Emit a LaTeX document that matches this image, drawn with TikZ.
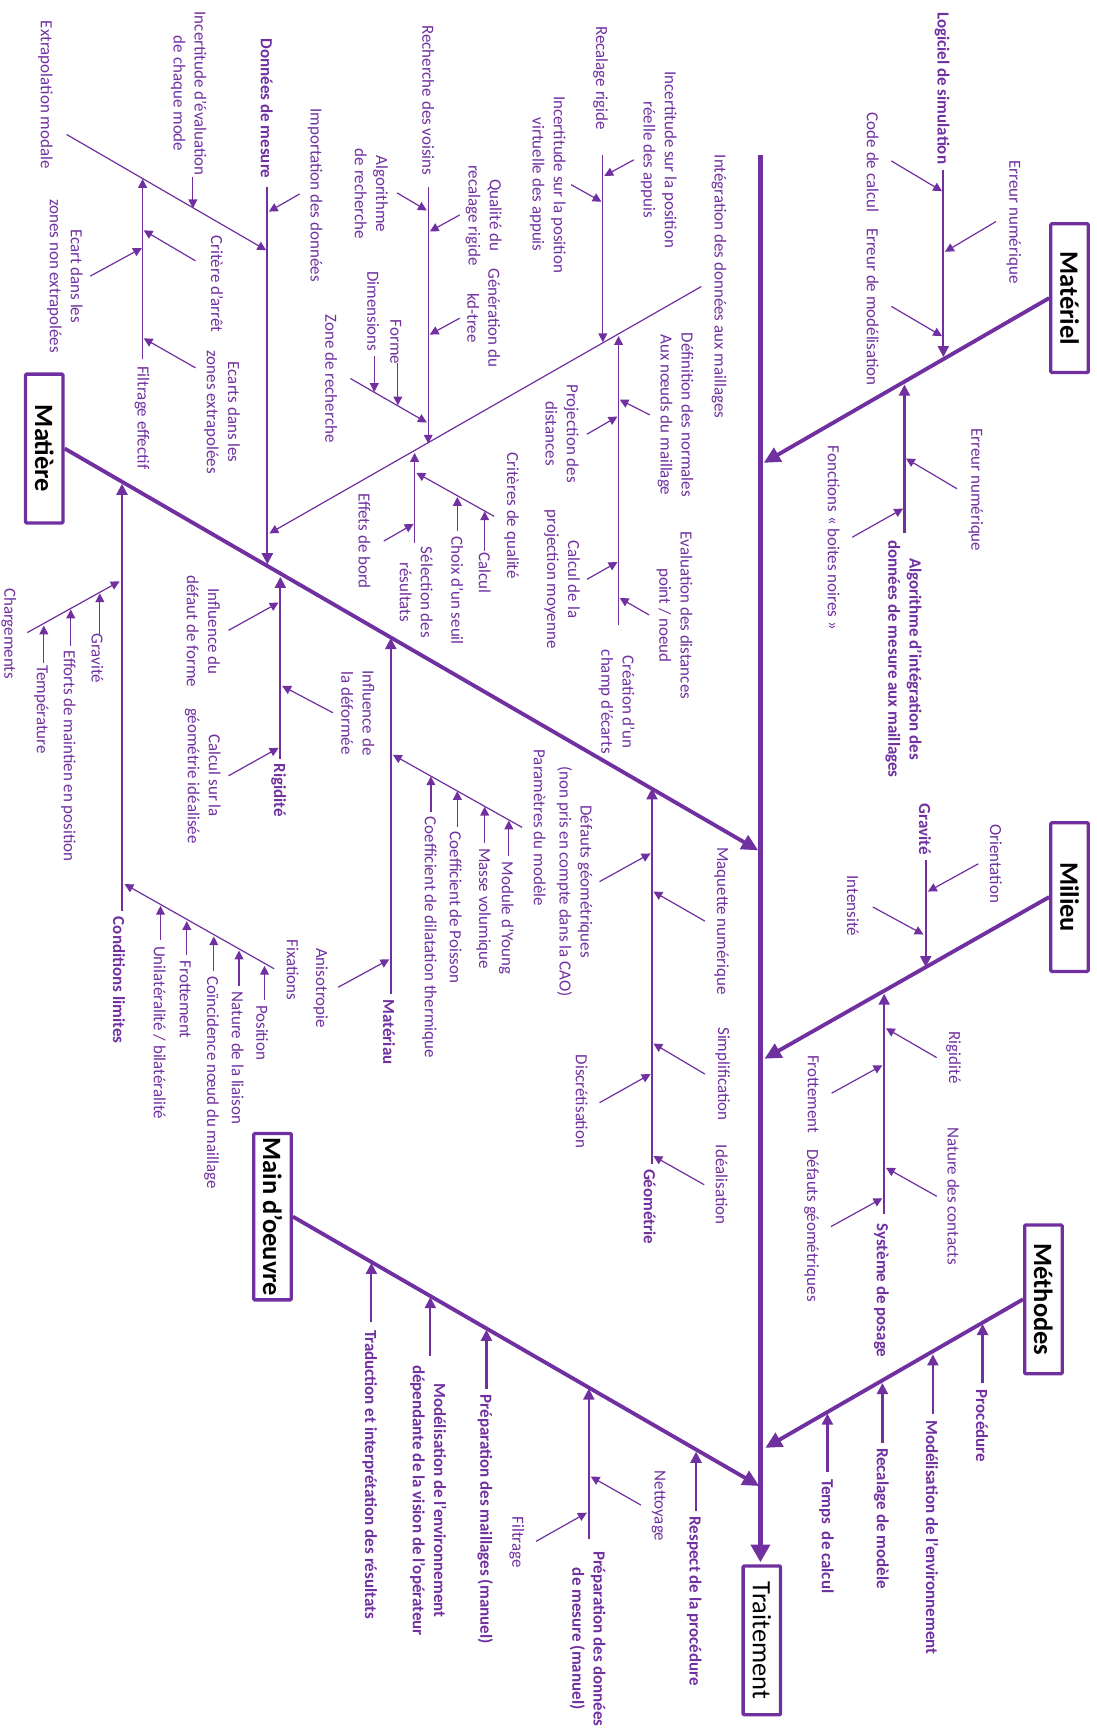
\documentclass[tikz,border=0pt]{standalone}
\usepackage{fontspec}
\setmainfont{Carlito}
\usepackage{xcolor}
\usetikzlibrary{arrows.meta}
\definecolor{fishviolet}{HTML}{7030A0}

\begin{document}
\begin{tikzpicture}[
    x=1pt, y=-1pt,
    head/.style={rectangle, rounded corners=1pt, draw=fishviolet, line width=3pt, rotate=-90, text=black, font=\fontsize{24}{28}\selectfont\bfseries, minimum width=135pt, minimum height=34pt, inner sep=0pt},
    cause/.style={rotate=-90, text=fishviolet, font=\fontsize{15.4}{19.2}\selectfont, align=center, inner sep=0pt},
    bigcause/.style={cause, font=\fontsize{15.4}{19.2}\selectfont\bfseries},
    spine/.style={draw=fishviolet, line width=4.5pt, -{Triangle[length=16pt,width=17pt]}},
    bone/.style={draw=fishviolet, line width=3.5pt, -{Triangle[length=15pt,width=14pt]}},
    rib/.style={draw=fishviolet, line width=2pt, -{Triangle[length=10pt,width=10pt]}},
    twig/.style={draw=fishviolet, line width=1.1pt, -{Triangle[length=8pt,width=8pt]}}
]
\useasboundingbox (0,0) rectangle (995,1568);

\node[head] (materiel) at (970.5,270.5) {Matériel};
\node[head] (milieu) at (970.5,814) {Milieu};
\node[head] (methodes) at (946.8,1179) {Méthodes};
\node[head] (matiere) at (40.2,407) {Matière};
\node[head, minimum width=151pt] (maindoeuvre) at (247.3,1104) {Main d’oeuvre};
\node[head, font=\fontsize{24}{28}\selectfont] (traitement) at (691.3,1488.5) {Traitement};

\coordinate (spinetop) at (690,140.5);
\coordinate (spinetip) at (690,1417.6);
\coordinate (matertip) at (693,420);
\coordinate (milieutip) at (693.7,960.7);
\coordinate (methtip) at (694.4,1313.8);
\coordinate (matiertip) at (688,771.6);
\coordinate (maintip) at (688.9,1348.4);

\draw[spine] (spinetop) -- (spinetip);
\draw[bone] (materiel.south) -- (matertip);
\draw[bone] (milieu.south) -- (milieutip);
\draw[bone] (methodes.south) -- (methtip);
\draw[bone] (matiere.north) -- (matiertip);
\draw[bone] (maindoeuvre.north) -- (maintip);

% Materiel
\node[bigcause] (logiciel) at (855,80) {Logiciel de simulation};
\node[cause] (errnum) at (920,201.5) {Erreur numérique};
\node[cause] (code) at (792,147.5) {Code de calcul};
\node[cause] (errmod) at (792,278.5) {Erreur de modélisation};
\node[bigcause] (algo) at (820,598) {Algorithme d’intégration des\\données de mesure aux maillages};
\node[cause] (errnumb) at (885.5,444.5) {Erreur numérique};
\node[cause] (boites) at (756.6,488) {Fonctions « boites noires »};

\coordinate (logtop) at (856,154); \coordinate (logtip) at (856,324);
\coordinate (algobot) at (820.7,484); \coordinate (algotip) at (820.7,349);
\coordinate (errnuma) at (903.8,201); \coordinate (errnumt) at (857.5,228.5);
\coordinate (codea) at (808.8,146); \coordinate (codet) at (854.8,173.5);
\coordinate (errmoda) at (808.8,278); \coordinate (errmodt) at (854.8,305);
\coordinate (errnumba) at (868.4,443.5); \coordinate (errnumbt) at (822,416);
\coordinate (boitesa) at (773.3,487.5); \coordinate (boitest) at (819.5,461.5);

\draw[rib] (logtop) -- (logtip);
\draw[rib] (algobot) -- (algotip);
\draw[twig] (errnuma) -- (errnumt);
\draw[twig] (codea) -- (codet);
\draw[twig] (errmoda) -- (errmodt);
\draw[twig] (errnumba) -- (errnumbt);
\draw[twig] (boitesa) -- (boitest);

% Integration des donnees
\node[cause] (integ) at (652.5,260) {Intégration des données aux maillages};
\node[cause] (recalage) at (545,71) {Recalage rigide};
\node[cause] (increel) at (597.7,145) {Incertitude sur la position\\réelle des appuis};
\node[cause] (incvirt) at (497,167.5) {Incertitude sur la position\\virtuelle des appuis};
\node[cause] (creation) at (559.5,637) {Création d’un\\champ d’écarts};
\node[cause] (normales) at (613,376.5) {Définition des normales\\Aux nœuds du maillage};
\node[cause] (projdist) at (510,393.5) {Projection des\\distances};
\node[cause] (evaldist) at (612,558.5) {Evaluation des distances\\point / noeud};
\node[cause] (projmoy) at (510,525.5) {Calcul de la\\projection moyenne};

\coordinate (intega) at (636.4,260); \coordinate (integt) at (244.5,484);
\coordinate (recaltop) at (547,140.5); \coordinate (recaltip) at (547,310.6);
\coordinate (creabot) at (561.3,567); \coordinate (creatip) at (561.3,305);
\coordinate (increela) at (575.2,145); \coordinate (increelt) at (548.4,159.6);
\coordinate (incvirta) at (518.2,167.6); \coordinate (incvirtt) at (545.8,183);
\coordinate (normalesa) at (589.7,376.5); \coordinate (normalest) at (562.3,362.6);
\coordinate (projdista) at (532.6,394); \coordinate (projdistt) at (560.3,378);
\coordinate (evaldista) at (589,558); \coordinate (evaldistt) at (562.3,542.6);
\coordinate (projmoya) at (532.6,525.7); \coordinate (projmoyt) at (560.3,510);

\draw[twig] (intega) -- (integt);
\draw[twig] (recaltop) -- (recaltip);
\draw[twig] (creabot) -- (creatip);
\draw[twig] (increela) -- (increelt);
\draw[twig] (incvirta) -- (incvirtt);
\draw[twig] (normalesa) -- (normalest);
\draw[twig] (projdista) -- (projdistt);
\draw[twig] (evaldista) -- (evaldistt);
\draw[twig] (projmoya) -- (projmoyt);

% Donnees de mesure
\node[bigcause] (donnees) at (242,98.5) {Données de mesure};
\node[cause] (import) at (286,177) {Importation des données};
\node[cause] (extrapol) at (41.3,86) {Extrapolation modale};
\node[cause] (incmode) at (171.3,85) {Incertitude d’évaluation\\de chaque mode};
\node[cause] (filtreff) at (128.8,379) {Filtrage effectif};
\node[cause] (arret) at (197,257.5) {Critère d’arrêt};
\node[cause] (ecartnon) at (58.9,250.5) {Ecart dans les\\zones non extrapolées};
\node[cause] (ecartext) at (201.5,374) {Ecarts dans les\\zones extrapolées};

\coordinate (donneestop) at (242.6,170); \coordinate (donneestip) at (242.6,512);
\coordinate (importa) at (271.9,176); \coordinate (importt) at (244,192);
\coordinate (extrapola) at (60.4,122); \coordinate (extrapolt) at (241.5,227);
\coordinate (incmodetop) at (175,161); \coordinate (incmodetip) at (175,189);
\coordinate (filtrbot) at (129.4,326); \coordinate (filtrtip) at (129.4,162.4);
\coordinate (arreta) at (177.4,236.7); \coordinate (arrett) at (130.4,209);
\coordinate (ecartnona) at (82,250.5); \coordinate (ecartnont) at (128.8,225);
\coordinate (ecartexta) at (177.4,333.8); \coordinate (ecartextt) at (130.4,307);

\draw[rib] (donneestop) -- (donneestip);
\draw[twig] (importa) -- (importt);
\draw[twig] (extrapola) -- (extrapolt);
\draw[twig] (incmodetop) -- (incmodetip);
\draw[twig] (filtrbot) -- (filtrtip);
\draw[twig] (arreta) -- (arrett);
\draw[twig] (ecartnona) -- (ecartnont);
\draw[twig] (ecartexta) -- (ecartextt);

% Recherche des voisins
\node[cause] (voisins) at (388.6,91) {Recherche des voisins};
\node[cause] (algorech) at (337,176) {Algorithme\\de recherche};
\node[cause] (qualite) at (438.9,195.5) {Qualité du\\recalage rigide};
\node[cause] (kdtree) at (438.9,288.5) {Génération du\\kd-tree};
\node[cause] (zone) at (300.5,343.5) {Zone de recherche};
\node[cause] (dimensions) at (338.7,282.5) {Dimensions};
\node[cause] (forme) at (359,310.5) {Forme};

\coordinate (voisinstop) at (388.6,170); \coordinate (voisinstip) at (388.6,402.5);
\coordinate (algorecha) at (360.3,175); \coordinate (algorecht) at (387.3,191);
\coordinate (qualitea) at (417.2,195); \coordinate (qualitet) at (390,210);
\coordinate (kdtreea) at (417.2,288.7); \coordinate (kdtreet) at (390,303.6);
\coordinate (zonea) at (318,343.5); \coordinate (zonet) at (387.3,383.4);
\coordinate (dimtop) at (339.6,322.7); \coordinate (dimtip) at (339.6,355.7);
\coordinate (formetop) at (361,329.6); \coordinate (formetip) at (361,367.8);

\draw[twig] (voisinstop) -- (voisinstip);
\draw[twig] (algorecha) -- (algorecht);
\draw[twig] (qualitea) -- (qualitet);
\draw[twig] (kdtreea) -- (kdtreet);
\draw[twig] (zonea) -- (zonet);
\draw[twig] (dimtop) -- (dimtip);
\draw[twig] (formetop) -- (formetip);

% Selection des resultats
\node[cause] (selection) at (377.7,537.5) {Sélection des\\résultats};
\node[cause] (criteres) at (464.3,468) {Critères de qualité};
\node[cause] (calcul) at (439.8,520) {Calcul};
\node[cause] (seuil) at (415,536) {Choix d’un seuil};
\node[cause] (effets) at (330.7,491) {Effets de bord};

\coordinate (selbot) at (376.2,492.7); \coordinate (seltip) at (376.2,411);
\coordinate (criteresa) at (448.4,468.5); \coordinate (critorest) at (377.8,429);
\coordinate (calculbot) at (439.8,500); \coordinate (calcultip) at (439.8,464);
\coordinate (seuilbot) at (415,482); \coordinate (seuiltip) at (415,451);
\coordinate (effetsa) at (348.2,491); \coordinate (effetst) at (375.3,475.4);

\draw[twig] (selbot) -- (seltip);
\draw[twig] (criteresa) -- (critorest);
\draw[twig] (calculbot) -- (calcultip);
\draw[twig] (seuilbot) -- (seuiltip);
\draw[twig] (effetsa) -- (effetst);

% Conditions limites
\node[bigcause] (condlim) at (108,889.5) {Conditions limites};
\node[cause] (chargements) at (8,575) {Chargements};
\node[cause] (gravitech) at (88.4,597.3) {Gravité};
\node[cause] (efforts) at (62,686) {Efforts de maintien en position};
\node[cause] (temperature) at (37.5,644) {Température};
\node[cause] (fixations) at (265.5,880) {Fixations};
\node[cause] (position) at (237.9,937) {Position};
\node[cause] (liaison) at (215.6,960) {Nature de la liaison};
\node[cause] (coincidence) at (192,982.5) {Coïncidence nœud du maillage};
\node[cause] (frottfix) at (168,907) {Frottement};
\node[cause] (unilat) at (144.7,937) {Unilatéralité / bilatéralité};

\coordinate (condbot) at (110.7,827); \coordinate (condtip) at (110.7,439);
\coordinate (chargea) at (24.8,574); \coordinate (charget) at (108.5,527.5);
\coordinate (gravchbot) at (90.6,575.5); \coordinate (gravchtip) at (90.6,538.4);
\coordinate (effortsbot) at (64.2,586); \coordinate (effortstip) at (64.2,553);
\coordinate (tempbot) at (39.75,601.6); \coordinate (temptip) at (39.75,567.6);
\coordinate (fixa) at (248.7,879); \coordinate (fixt) at (113,802.2);
\coordinate (posbot) at (240,907); \coordinate (postip) at (240,876.4);
\coordinate (liaisbot) at (216.9,894.8); \coordinate (liaistip) at (216.9,862.5);
\coordinate (coincbot) at (194,881); \coordinate (coinctip) at (194,849.7);
\coordinate (frottbot) at (169.5,867); \coordinate (frotttip) at (169.5,835.8);
\coordinate (unibot) at (145.6,853); \coordinate (unitip) at (145.6,822);

\draw[rib] (condbot) -- (condtip);
\draw[twig] (chargea) -- (charget);
\draw[twig] (gravchbot) -- (gravchtip);
\draw[twig] (effortsbot) -- (effortstip);
\draw[twig] (tempbot) -- (temptip);
\draw[twig] (fixa) -- (fixt);
\draw[twig] (posbot) -- (postip);
\draw[twig] (liaisbot) -- (liaistip);
\draw[twig] (coincbot) -- (coinctip);
\draw[twig] (frottbot) -- (frotttip);
\draw[twig] (unibot) -- (unitip);

% Rigidite et Materiau
\node[bigcause] (rigidite) at (252.8,717) {Rigidité};
\node[cause] (infdefaut) at (184.5,573) {Influence du\\défaut de forme};
\node[cause] (infdeform) at (324.7,647) {Influence de\\la déformée};
\node[cause] (calcgeo) at (184,704) {Calcul sur la\\géométrie idéalisée};
\node[bigcause] (materiau) at (353,936.5) {Matériau};
\node[cause] (parametres) at (489.7,751) {Paramètres du modèle};
\node[cause] (young) at (459.5,833) {Module d’Young};
\node[cause] (masse) at (438.8,824.5) {Masse volumique};
\node[cause] (poisson) at (413.4,823.5) {Coefficient de Poisson};
\node[cause] (dilatation) at (389.6,850.5) {Coefficient de dilatation thermique};
\node[cause] (aniso) at (291,896.5) {Anisotropie};

\coordinate (rigbot) at (254.4,688.3); \coordinate (rigtip) at (254.4,523.5);
\coordinate (infdefauta) at (207.3,572); \coordinate (infdefautt) at (252.8,546.8);
\coordinate (infdeforma) at (302,646.7); \coordinate (infdeformt) at (256,622.4);
\coordinate (calcgeoa) at (207.3,704); \coordinate (calcgeot) at (252.8,678.6);
\coordinate (matbot) at (354.6,901.7); \coordinate (mattip) at (354.6,579);
\coordinate (parama) at (473.8,750.8); \coordinate (paramt) at (356.5,684.9);
\coordinate (youngbot) at (461.7,776.8); \coordinate (youngtip) at (461.7,744.5);
\coordinate (massebot) at (439.8,764.7); \coordinate (massetip) at (439.8,732);
\coordinate (poissbot) at (415,750.8); \coordinate (poisstip) at (415,717.8);
\coordinate (dilatbot) at (391,737); \coordinate (dilattip) at (391,704.5);
\coordinate (anisoa) at (306.9,895.8); \coordinate (anisot) at (353.3,870.5);

\draw[rib] (rigbot) -- (rigtip);
\draw[twig] (infdefauta) -- (infdefautt);
\draw[twig] (infdeforma) -- (infdeformt);
\draw[twig] (calcgeoa) -- (calcgeot);
\draw[rib] (matbot) -- (mattip);
\draw[twig] (parama) -- (paramt);
\draw[twig] (youngbot) -- (youngtip);
\draw[twig] (massebot) -- (massetip);
\draw[twig] (poissbot) -- (poisstip);
\draw[twig] (dilatbot) -- (dilattip);
\draw[twig] (anisoa) -- (anisot);

% Geometrie
\node[bigcause] (geometrie) at (589.7,1095) {Géométrie};
\node[cause] (defautsgeo) at (521.4,800) {Défauts géométriques\\(non pris en compte dans la CAO)};
\node[cause] (maquette) at (654.8,835.8) {Maquette numérique};
\node[cause] (simplif) at (655.7,974.5) {Simplification};
\node[cause] (discret) at (527.8,999.5) {Discrétisation};
\node[cause] (idealis) at (654.8,1075) {Idéalisation};

\coordinate (geobot) at (591.6,1056); \coordinate (geotip) at (591.6,715.4);
\coordinate (defautsgeoa) at (544,800); \coordinate (defautsgeot) at (590.3,774.4);
\coordinate (maquettea) at (639.6,835.8); \coordinate (maquettet) at (592.9,809);
\coordinate (simplifa) at (639.6,974.6); \coordinate (simplift) at (592.9,946.9);
\coordinate (discreta) at (544,1000.6); \coordinate (discrett) at (590.3,974.6);
\coordinate (idealisa) at (639,1075); \coordinate (idealist) at (592.9,1049);

\draw[rib] (geobot) -- (geotip);
\draw[twig] (defautsgeoa) -- (defautsgeot);
\draw[twig] (maquettea) -- (maquettet);
\draw[twig] (simplifa) -- (simplift);
\draw[twig] (discreta) -- (discrett);
\draw[twig] (idealisa) -- (idealist);

% Milieu
\node[bigcause] (gravite) at (839.4,752.5) {Gravité};
\node[cause] (orientation) at (903.8,783.6) {Orientation};
\node[cause] (intensite) at (774,822) {Intensité};
\node[bigcause] (posage) at (799.8,1171) {Système de posage};
\node[cause] (rigposage) at (865.2,959.7) {Rigidité};
\node[cause] (frottposage) at (737.9,992.7) {Frottement};
\node[cause] (contacts) at (865.2,1085.4) {Nature des contacts};
\node[cause] (defposage) at (736.3,1112) {Défauts géométriques};

\coordinate (gravtop) at (840,780); \coordinate (gravtip) at (840,877.5);
\coordinate (orienta) at (887.7,783.8); \coordinate (orientt) at (842,809);
\coordinate (intensa) at (792,823); \coordinate (intenst) at (838,848);
\coordinate (posagebot) at (802.3,1101.8); \coordinate (posagetip) at (802.3,901.7);
\coordinate (rigposa) at (850,959.7); \coordinate (rigpost) at (803.9,933);
\coordinate (frottposa) at (754.6,992); \coordinate (frottpost) at (800.7,966.6);
\coordinate (contactsa) at (850,1085.5); \coordinate (contactst) at (803.9,1059.6);
\coordinate (defposa) at (754,1113); \coordinate (defpost) at (800.7,1087.3);

\draw[rib] (gravtop) -- (gravtip);
\draw[twig] (orienta) -- (orientt);
\draw[twig] (intensa) -- (intenst);
\draw[rib] (posagebot) -- (posagetip);
\draw[twig] (rigposa) -- (rigpost);
\draw[twig] (frottposa) -- (frottpost);
\draw[twig] (contactsa) -- (contactst);
\draw[twig] (defposa) -- (defpost);

% Methodes
\node[bigcause] (procedure) at (891,1294) {Procédure};
\node[bigcause] (modenv) at (845.8,1395) {Modélisation de l’environnement};
\node[bigcause] (recalmod) at (799.8,1377.8) {Recalage de modèle};
\node[bigcause] (temps) at (750,1394) {Temps~~de calcul};

\coordinate (procbot) at (891.6,1255); \coordinate (proctip) at (891.6,1201.4);
\coordinate (modenvbot) at (846.5,1282.7); \coordinate (modenvtip) at (846.5,1229);
\coordinate (recalmodbot) at (800.7,1309); \coordinate (recalmodtip) at (800.7,1255);
\coordinate (tempsbot) at (750.8,1336); \coordinate (tempstip) at (750.8,1282.7);

\draw[rib] (procbot) -- (proctip);
\draw[rib] (modenvbot) -- (modenvtip);
\draw[rib] (recalmodbot) -- (recalmodtip);
\draw[rib] (tempsbot) -- (tempstip);

% Main d'oeuvre
\node[bigcause] (respect) at (630,1453) {Respect de la procédure};
\node[bigcause] (prepdonnees) at (533.3,1487) {Préparation des données\\de mesure (manuel)};
\node[cause] (nettoyage) at (597.7,1366.6) {Nettoyage};
\node[cause] (filtrage) at (469,1399.5) {Filtrage};
\node[bigcause] (traduction) at (335.5,1338) {Traduction et interprétation des résultats};
\node[bigcause] (modop) at (388.7,1361.5) {Modélisation de l’environnement\\dépendante de la vision de l’opérateur};
\node[bigcause] (prepmaill) at (440.4,1378.5) {Préparation des maillages (manuel)};

\coordinate (respbot) at (631.6,1371); \coordinate (resptip) at (631.6,1317.3);
\coordinate (prepdbot) at (534.3,1396.8); \coordinate (prepdtip) at (534.3,1260);
\coordinate (nettoya) at (581.6,1365.7); \coordinate (nettoyt) at (536,1339.8);
\coordinate (filtra) at (486.5,1398.6); \coordinate (filtrt) at (532.5,1372.6);
\coordinate (tradbot) at (337,1199.7); \coordinate (tradtip) at (337,1146);
\coordinate (modopbot) at (390.5,1230.8); \coordinate (modoptip) at (390.5,1177);
\coordinate (prepmbot) at (441.4,1260); \coordinate (prepmtip) at (441.4,1206.6);

\draw[rib] (respbot) -- (resptip);
\draw[rib] (prepdbot) -- (prepdtip);
\draw[twig] (nettoya) -- (nettoyt);
\draw[twig] (filtra) -- (filtrt);
\draw[rib] (tradbot) -- (tradtip);
\draw[rib] (modopbot) -- (modoptip);
\draw[rib] (prepmbot) -- (prepmtip);

\end{tikzpicture}
\end{document}
